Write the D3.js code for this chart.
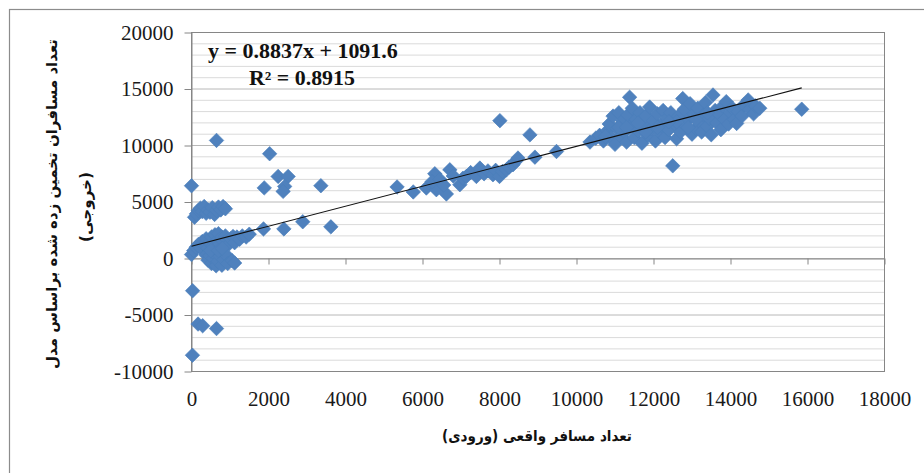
<!DOCTYPE html>
<html>
<head>
<meta charset="utf-8">
<script src="https://cdn.jsdelivr.net/npm/d3@7"></script>
<style>
  body { margin: 0; background: #fff; }
  svg { display: block; }
</style>
</head>
<body>
<svg id="chart" width="924" height="473"></svg>
<script>
// Axis ticks
const xTicks = [0, 2000, 4000, 6000, 8000, 10000, 12000, 14000, 16000, 18000];
const yTicks = [-10000, -5000, 0, 5000, 10000, 15000, 20000];
const gridStep = 1000;

// Linear trendline reported on the chart
const trendSlope = 0.8837;
const trendIntercept = 1091.6;
const rSquared = 0.8915;

// Titles
const xTitle = "تعداد مسافر واقعی (ورودی)";
const yTitleLines = ["تعداد مسافران تخمین زده شده براساس مدل", "(خروجی)"];

// [actual riders (input), model estimate (output)] — stations with fewer than 4000 riders
const lowRange = [
  [0, 6440], [650, 10450], [2030, 9270], [1890, 6250], [2250, 7260], [2510, 7260],
  [2420, 6380], [2380, 5940], [3360, 6440], [30, -2850], [170, -5800], [290, -5950],
  [650, -6200], [25, -8560], [1870, 2620], [2400, 2620], [2890, 3250], [3620, 2800],
  [80, 3650], [130, 3950], [180, 4250], [230, 4450], [280, 4150], [330, 4600],
  [380, 4000], [430, 4300], [480, 4100], [540, 4500], [600, 3900], [650, 4250],
  [700, 4550], [760, 4300], [820, 4600], [880, 4400],
  [0, 350], [60, 700], [120, 1000], [180, 1250], [240, 900], [280, 1500], [330, 1200],
  [380, 1750], [420, 900], [460, 1400], [520, 1900], [560, 1100], [610, 2100],
  [660, 1600], [700, 2200], [740, 1300], [790, 1900], [830, 1500], [880, 2000],
  [930, 1650], [980, 1300], [1020, 1750], [1080, 1950], [1120, 1400], [1180, 1900],
  [1250, 1700], [1320, 2000], [1420, 1900], [1500, 2150],
  [380, 300], [430, -150], [480, 250], [520, -450], [560, 0], [600, 450], [640, -650],
  [690, -250], [740, 200], [790, -600], [840, -100], [890, 350], [940, -450],
  [1060, -200], [1120, -400], [500, 700], [700, 700], [800, 900]
];

// Stations with 4000–10000 riders
const midRange = [
  [5340, 6330], [5760, 5890], [6100, 6240], [6320, 7500], [6360, 6090], [6250, 6800],
  [6450, 7000], [6620, 5710], [6710, 7850], [6550, 6500], [6800, 7300], [6970, 6530],
  [7050, 7100], [7140, 7260], [7250, 7600], [7400, 7260], [7490, 8000], [7600, 7500],
  [7700, 7750], [7830, 7410], [7900, 7800], [8000, 7260], [8080, 7700], [8180, 7850],
  [8250, 8100], [8350, 8300], [8420, 8600], [8480, 8890], [8010, 12200], [8790, 10940],
  [8920, 8970], [9480, 9470]
];

// Stations with more than 10000 riders
const highRange = [
  [10350, 10300], [10500, 10650], [10600, 10900], [10700, 10400], [10800, 11300],
  [10850, 11900], [10900, 10700], [10950, 12600], [11000, 10100], [11050, 11500],
  [11100, 12900], [11150, 10800], [11200, 12200], [11250, 11200], [11300, 10300],
  [11330, 12700], [11380, 14270], [11400, 11700], [11450, 13300], [11500, 10700],
  [11550, 12300], [11600, 11300], [11650, 12900], [11700, 10200], [11750, 11900],
  [11800, 12600], [11850, 10900], [11900, 13400], [11950, 11500], [12000, 12200],
  [12050, 10400], [12100, 12800], [12150, 11200], [12200, 11800], [12250, 13100],
  [12300, 10700], [12350, 12400], [12400, 11400], [12450, 12900], [12500, 8200],
  [12550, 11900], [12600, 10600], [12650, 12600], [12700, 11200], [12760, 14150],
  [12800, 13200], [12850, 11700], [12900, 12300], [12950, 13700], [13000, 11000],
  [13050, 12800], [13100, 11500], [13150, 13300], [13200, 12100], [13250, 11200],
  [13300, 12700], [13350, 13800], [13400, 11700], [13450, 12400], [13500, 10950],
  [13545, 14470], [13600, 13100], [13650, 12000], [13700, 12800], [13750, 11400],
  [13800, 13500], [13850, 12300], [13890, 13880], [13950, 11900], [14000, 12900],
  [14050, 13300], [14100, 12300], [14160, 11950], [14200, 13000], [14300, 12600],
  [14350, 13600], [14460, 14030], [14500, 13200], [14600, 12800], [14650, 13500],
  [14760, 13300], [15850, 13210],
  [11100, 11600], [11600, 12000], [12100, 11600], [12600, 12100], [13100, 12300],
  [11300, 11600], [11800, 11200], [12400, 12100], [12900, 11600], [13400, 12900],
  [10750, 10800]
];

const points = lowRange.concat(midRange, highRange);

const svg = d3.select("#chart");
const x = d3.scaleLinear().domain([0, 18000]).range([191.5, 884.5]);
const y = d3.scaleLinear().domain([-10000, 20000]).range([371.5, 32.5]);

const serif = "'Liberation Serif', 'Times New Roman', serif";
const persian = "'DejaVu Sans', sans-serif";
const axisColor = "#868686";
const plainNumber = d => String(d);

// scale text horizontally so it spans a given width, anchored at (ax, ay)
function fitText(sel, width, ax, ay, rotate) {
  const w = sel.node().getComputedTextLength();
  const k = width / w;
  sel.attr("x", 0).attr("y", 0)
     .attr("transform", `translate(${ax},${ay})` + (rotate ? ` rotate(${rotate})` : "") + ` scale(${k},1)`);
}

// outer chart frame
svg.append("rect")
  .attr("x", 9.5).attr("y", 9.5).attr("width", 960).attr("height", 500)
  .attr("fill", "#fff").attr("stroke", "#8c8c8c").attr("stroke-width", 1.2);

// horizontal gridlines
const gridVals = d3.range(-10000, 20000 + 1, gridStep);
svg.append("g").selectAll("line").data(gridVals).join("line")
  .attr("x1", x(0)).attr("x2", x(18000))
  .attr("y1", d => y(d)).attr("y2", d => y(d))
  .attr("stroke", d => d % 5000 === 0 ? "#b8b8b8" : "#dadada")
  .attr("stroke-width", 1);

// plot area border
svg.append("rect")
  .attr("x", x(0)).attr("y", y(20000))
  .attr("width", x(18000) - x(0)).attr("height", y(-10000) - y(20000))
  .attr("fill", "none").attr("stroke", axisColor).attr("stroke-width", 1);

// y axis
const yAxis = svg.append("g")
  .attr("transform", `translate(${x(0)},0)`)
  .call(d3.axisLeft(y).tickValues(yTicks).tickFormat(plainNumber)
    .tickSize(7).tickSizeOuter(0).tickPadding(11));
yAxis.attr("font-family", null).attr("font-size", null);
yAxis.select(".domain").attr("stroke", axisColor);
yAxis.selectAll(".tick line").attr("stroke", axisColor);
yAxis.selectAll("text")
  .style("font-family", serif).style("font-size", "21px").attr("fill", "#1a1a1a");

// x axis crosses at zero, labels sit below the plot
const xAxis = svg.append("g")
  .attr("transform", `translate(0,${y(0)})`)
  .call(d3.axisBottom(x).tickValues(xTicks).tickFormat(plainNumber)
    .tickSize(6).tickSizeOuter(0));
xAxis.attr("font-family", null).attr("font-size", null);
xAxis.select(".domain").attr("stroke", axisColor);
xAxis.selectAll(".tick line").attr("stroke", axisColor);
xAxis.selectAll("text")
  .attr("y", y(-10000) - y(0) + 20)
  .style("font-family", serif).style("font-size", "21px").attr("fill", "#1a1a1a");

// markers
const diamond = d3.symbol().type(d3.symbolSquare).size(105);
svg.append("g").selectAll("path").data(points).join("path")
  .attr("d", diamond)
  .attr("transform", d => `translate(${x(d[0])},${y(d[1])}) rotate(45)`)
  .attr("fill", "#4f81bd").attr("stroke", "#4a7ebb").attr("stroke-width", 0.6);

// linear trendline over the observed range
const xExtent = d3.extent(points, d => d[0]);
svg.append("line")
  .attr("x1", x(xExtent[0])).attr("y1", y(trendSlope * xExtent[0] + trendIntercept))
  .attr("x2", x(xExtent[1])).attr("y2", y(trendSlope * xExtent[1] + trendIntercept))
  .attr("stroke", "#111").attr("stroke-width", 1.1);

// trendline equation
const eq = svg.append("text")
  .style("font-family", serif).style("font-size", "20px").style("font-weight", "bold").attr("fill", "#111")
  .text(`y = ${trendSlope}x + ${trendIntercept}`);
fitText(eq, 190, 208, 58);
const r2 = svg.append("text")
  .style("font-family", serif).style("font-size", "20px").style("font-weight", "bold").attr("fill", "#111")
  .text(`R² = ${rSquared}`);
fitText(r2, 106, 249, 85);

// axis titles
function persianTitle(txt) {
  return svg.append("text")
    .style("font-family", persian).style("font-size", "15px").style("font-weight", "bold")
    .attr("text-anchor", "middle").attr("dy", "0.35em").attr("fill", "#111")
    .text(txt);
}
fitText(persianTitle(xTitle), 190, 537, 436);
fitText(persianTitle(yTitleLines[0]), 330, 52, 204, -90);
fitText(persianTitle(yTitleLines[1]), 70, 86, 207, -90);
</script>
</body>
</html>
